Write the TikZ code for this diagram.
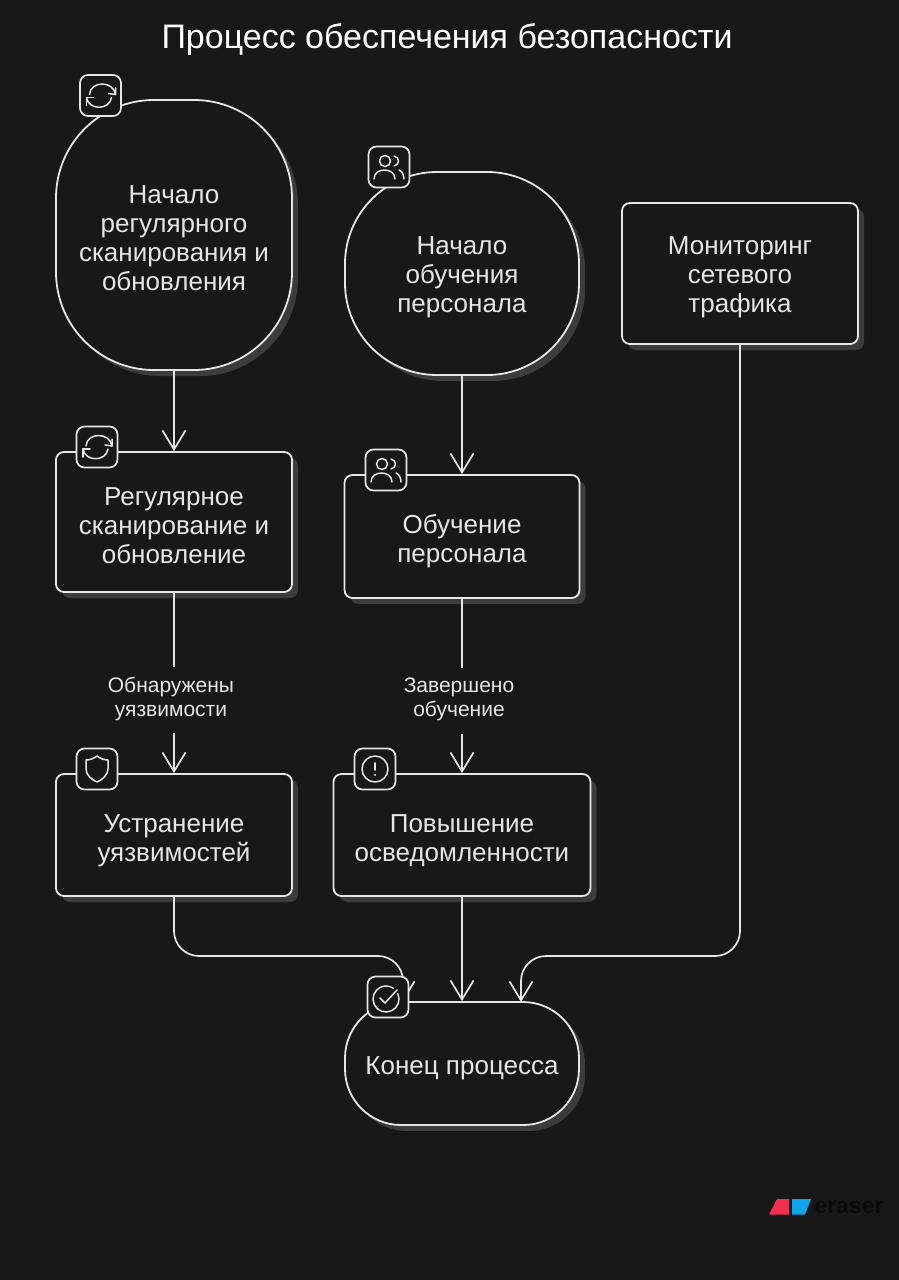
\documentclass[tikz,border=0pt]{standalone}
\usepackage{fontspec}
\setmainfont{Liberation Sans}
\usetikzlibrary{arrows.meta,shadows}
\definecolor{bgdark}{HTML}{181818}
\definecolor{inkwhite}{HTML}{E6E6E6}
\definecolor{shadowgray}{HTML}{3C3C3C}
\definecolor{logored}{HTML}{F0304F}
\definecolor{logoblue}{HTML}{0EA5E9}
\definecolor{logoblack}{HTML}{0B0B0B}
\newcommand{\blocktop}{\rule{0pt}{25pt}}
\newcommand{\shorttop}{\rule{0pt}{29pt}}
\newcommand{\labeltop}{\rule{0pt}{21pt}}
\newcommand{\labelgap}{\rule[-13pt]{0pt}{1pt}}
\tikzset{
    block/.style={shape=rectangle,draw=inkwhite,fill=bgdark,line width=1.8pt,text=inkwhite,align=center,
        inner sep=0pt,font=\fontsize{26}{29}\selectfont,
        general shadow={fill=shadowgray,shadow xshift=6pt,shadow yshift=-6pt}},
    flow/.style={draw=inkwhite,line width=1.7pt,-{Straight Barb[length=19pt,width=23pt]}},
    flowlabel/.style={fill=bgdark,text=inkwhite,align=center,inner xsep=0pt,inner ysep=4pt,minimum width=140pt,
        xshift=-3pt,font=\fontsize{21}{24}\selectfont},
    iconbox/.style={shape=rectangle,draw=inkwhite,fill=bgdark,line width=1.7pt,rounded corners=8pt,
        minimum width=41pt,minimum height=41pt,inner sep=0pt},
    glyph/.style={draw=inkwhite,line width=1.5pt,line cap=round,line join=round},
    pics/syncicon/.style={code={
        \draw[glyph] (-11,-1) .. controls (-10,-15) and (13,-15) .. (15,-1);
        \draw[glyph] (15,-8) -- (15,-1) -- (8,-2);
        \draw[glyph] (11,2) .. controls (9,15) and (-12,15) .. (-14,2);
        \draw[glyph] (-14,10) -- (-14,2) -- (-7,2);
    }},
    pics/usersicon/.style={code={
        \draw[glyph] (-4,-6) circle[radius=5.5];
        \draw[glyph] (5,-11) .. controls (11,-10) and (11,-2) .. (5,-1);
        \draw[glyph] (-15,12) .. controls (-15,0) and (6,0) .. (6,12);
        \draw[glyph] (10,3) .. controls (13,4) and (15,8) .. (15,12);
    }},
    pics/shieldicon/.style={code={
        \draw[glyph] (0,-13) .. controls (-4,-10) and (-8,-9) .. (-11,-9) -- (-11,0)
            .. controls (-11,6) and (-5,11) .. (0,13) .. controls (5,11) and (11,6) .. (11,0)
            -- (11,-9) .. controls (8,-9) and (4,-10) .. (0,-13) -- cycle;
    }},
    pics/alerticon/.style={code={
        \draw[glyph] (0,0) circle[radius=13];
        \draw[glyph] (0,-6) -- (0,1);
        \fill[inkwhite] (0,6) circle[radius=1.2];
    }},
    pics/checkicon/.style={code={
        \draw[glyph] (-2,2) ++(-25:13) arc[start angle=-25,end angle=305,radius=13];
        \draw[glyph] (-8,1) -- (-3,6) -- (9,-7);
    }},
}
\begin{document}
\begin{tikzpicture}[x=1pt,y=-1pt]
    \useasboundingbox[fill=bgdark] (0,0) rectangle (899,1280);

    \node[text=white,font=\fontsize{34}{38}\selectfont] (TITLE) at (447,40) {Процесс обеспечения безопасности};

    \node[block,rounded corners=98pt,minimum width=236pt,minimum height=270pt] (STARTSCAN) at (174,235) {\blocktop Начало\\регулярного\\сканирования и\\обновления};
    \node[block,rounded corners=92pt,minimum width=234pt,minimum height=203pt] (STARTTRAIN) at (462,273.5) {\blocktop Начало\\обучения\\персонала};
    \node[block,rounded corners=8pt,minimum width=236pt,minimum height=141pt] (MONITOR) at (740,273.5) {\blocktop Мониторинг\\сетевого\\трафика};
    \node[block,rounded corners=8pt,minimum width=236pt,minimum height=140pt] (SCAN) at (174,522) {\blocktop Регулярное\\сканирование и\\обновление};
    \node[block,rounded corners=8pt,minimum width=235pt,minimum height=123pt] (TRAIN) at (462,536.5) {\shorttop Обучение\\персонала};
    \node[block,rounded corners=8pt,minimum width=236pt,minimum height=122pt] (FIX) at (174,835) {\shorttop Устранение\\уязвимостей};
    \node[block,rounded corners=8pt,minimum width=257pt,minimum height=122pt] (AWARE) at (462,835) {\shorttop Повышение\\осведомленности};
    \node[block,rounded corners=56pt,minimum width=234pt,minimum height=123pt] (FINISH) at (462,1063.5) {\rule{0pt}{28pt}Конец процесса};

    \coordinate (FINISHL) at (403,1002);
    \coordinate (FINISHR) at (521,1002);
    \coordinate (BUSL) at (403,956);
    \coordinate (BUSR) at (521,956);

    \path [flow] (STARTSCAN) edge (SCAN);
    \path [flow] (STARTTRAIN) edge (TRAIN);
    \path [flow] (SCAN) edge node[flowlabel,pos=0.596] {\labeltop Обнаружены\\уязвимости\labelgap} (FIX);
    \path [flow] (TRAIN) edge node[flowlabel,pos=0.586] {\labeltop Завершено\\обучение\labelgap} (AWARE);
    \path [flow] (AWARE) edge (FINISH);
    \draw [flow,rounded corners=25pt] (FIX.south) |- (BUSL) -- (FINISHL);
    \draw [flow,rounded corners=25pt] (MONITOR.south) |- (BUSR) -- (FINISHR);

    \node[iconbox] (ICONA) at (100.5,95.5) {};
    \node[iconbox] (ICONB) at (389,167) {};
    \node[iconbox] (ICONC) at (97,447) {};
    \node[iconbox] (ICOND) at (386,470) {};
    \node[iconbox] (ICONE) at (97,769) {};
    \node[iconbox] (ICONF) at (375,769) {};
    \node[iconbox] (ICONG) at (388,997) {};
    \pic at (ICONA.center) {syncicon};
    \pic at (ICONB.center) {usersicon};
    \pic at (ICONC.center) {syncicon};
    \pic at (ICOND.center) {usersicon};
    \pic at (ICONE.center) {shieldicon};
    \pic at (ICONF.center) {alerticon};
    \pic at (ICONG.center) {checkicon};

    \fill[logored] (769,1214.5) -- (777,1199) -- (789,1199) -- (789,1214.5) -- cycle;
    \fill[logoblue] (792,1199) -- (811,1199) -- (805,1214.5) -- (792,1214.5) -- cycle;
    \node[text=logoblack,font=\fontsize{23}{26}\bfseries\selectfont] (LOGO) at (849,1207) {eraser};
\end{tikzpicture}
\end{document}
